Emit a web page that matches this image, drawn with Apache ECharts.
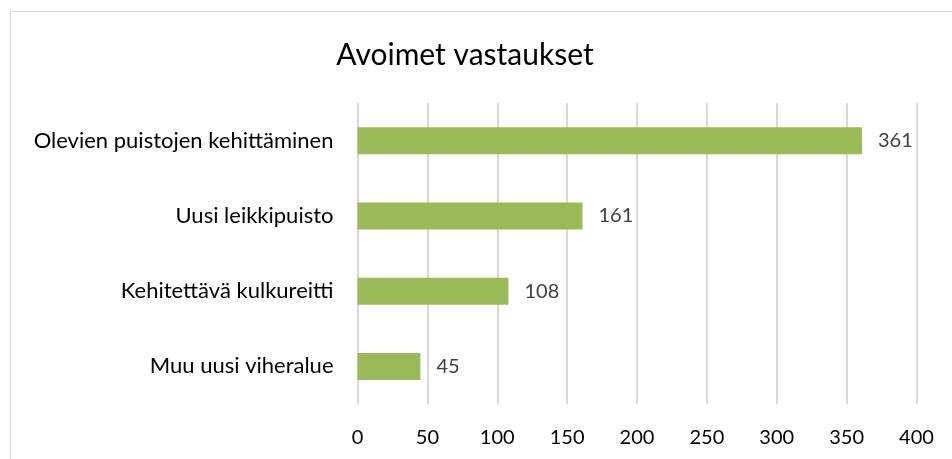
<!DOCTYPE html>
<html>
<head>
<meta charset="utf-8">
<script src="https://cdn.jsdelivr.net/npm/echarts@6/dist/echarts.min.js"></script>
<style>
  html, body { margin: 0; padding: 0; background: #fff; }
  #chart { width: 952px; height: 459px; }
</style>
</head>
<body>
<div id="chart"></div>
<script>
// data (bottom to top, as the y axis draws them)
const categories = ['Muu uusi viheralue', 'Kehitettävä kulkureitti', 'Uusi leikkipuisto', 'Olevien puistojen kehittäminen'];
const values = [45, 108, 161, 361];
const xTicks = [0, 50, 100, 150, 200, 250, 300, 350, 400];

const chart = echarts.init(document.getElementById('chart'));
const font = 'Lato, "Open Sans", sans-serif';

const option = {
    animation: false,
    textStyle: { fontFamily: font },
    title: {
        text: 'Avoimet vastaukset',
        left: 460,
        textAlign: 'center',
        top: 35,
        textStyle: { fontFamily: font, fontSize: 30, fontWeight: 'normal', color: '#000' }
    },
    graphic: [{
        // chart frame, only the top and left edges are in view
        type: 'rect',
        shape: { x: 10.5, y: 11.5, width: 1000, height: 1000 },
        style: { fill: 'none', stroke: '#d9d9d9', lineWidth: 1 },
        silent: true
    }],
    grid: { left: 357.5, right: 952 - 916.5, top: 103, bottom: 459 - 404 },
    xAxis: {
        type: 'value',
        min: xTicks[0],
        max: xTicks[xTicks.length - 1],
        interval: 50,
        axisLine: { show: false },
        axisTick: { show: false },
        splitLine: { show: true, lineStyle: { color: '#d9d9d9', width: 2 } },
        axisLabel: { fontFamily: font, fontSize: 20, color: '#000', margin: 24 }
    },
    yAxis: {
        type: 'category',
        data: categories,
        axisLine: { show: false },
        axisTick: { show: false },
        axisLabel: { fontFamily: font, fontSize: 22, color: '#000', margin: 24 }
    },
    series: [{
        type: 'bar',
        data: values,
        barWidth: 27,
        itemStyle: { color: '#9bbb59' },
        label: {
            show: true,
            position: 'right',
            distance: 16,
            fontFamily: font,
            fontSize: 20,
            color: '#404040'
        }
    }]
};

chart.setOption(option);
</script>
</body>
</html>
